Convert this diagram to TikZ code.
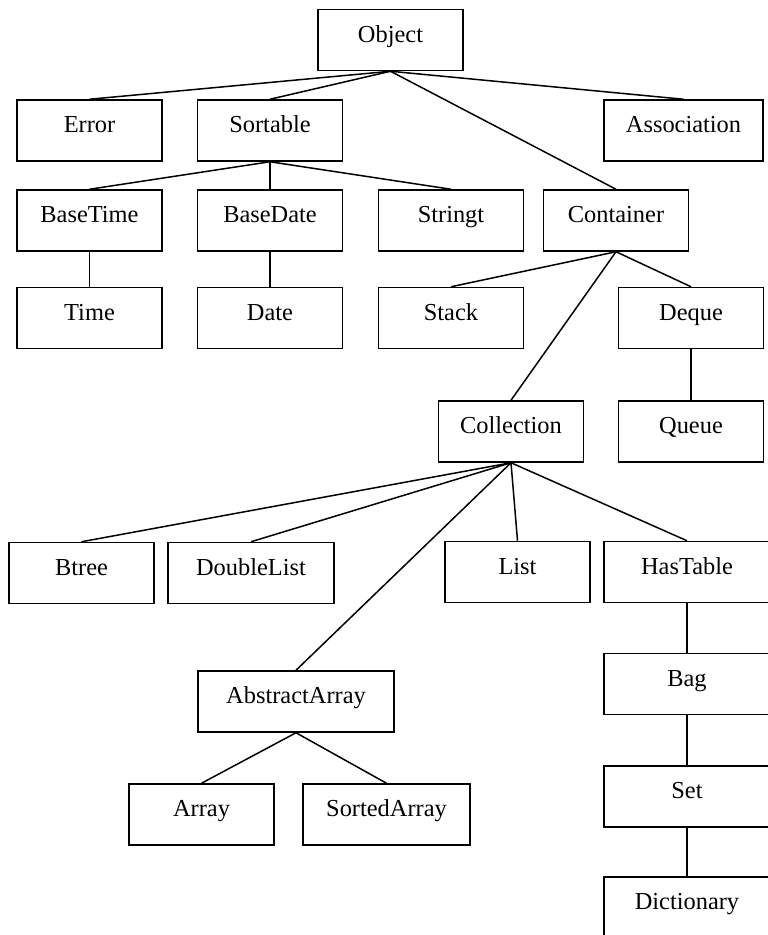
\documentclass[tikz,border=0pt]{standalone}
\usepackage{fontspec}
\setmainfont{Liberation Serif}
\tikzstyle{cls} = [draw, rectangle, line width=1.5pt, minimum width=145pt, minimum height=61pt, inner sep=0pt, text height=15pt, text depth=11pt, font=\fontsize{24.4}{29}\selectfont]
\tikzstyle{link} = [-, line width=1.5pt]

\begin{document}
\begin{tikzpicture}[x=1pt, y=-1pt]
\useasboundingbox (0, 0) rectangle (768, 935);
\clip (0, 0) rectangle (768, 935);
\node [cls] (Object) at (390.5, 40) {Object};
\node [cls] (Error) at (89.5, 130.5) {Error};
\node [cls] (Sortable) at (270, 130.5) {Sortable};
\node [cls, minimum width=159pt] (Association) at (683.5, 130.5) {Association};
\node [cls] (BaseTime) at (89.5, 220.5) {BaseTime};
\node [cls] (BaseDate) at (270, 220.5) {BaseDate};
\node [cls] (Stringt) at (451, 220.5) {Stringt};
\node [cls] (Container) at (616, 220.5) {Container};
\node [cls] (Time) at (89.5, 318) {Time};
\node [cls] (Date) at (270, 318) {Date};
\node [cls] (Stack) at (451, 318) {Stack};
\node [cls] (Deque) at (691, 318) {Deque};
\node [cls] (Collection) at (511, 431.5) {Collection};
\node [cls] (Queue) at (691, 431.5) {Queue};
\node [cls] (Btree) at (81.5, 573) {Btree};
\node [cls, minimum width=166pt] (DoubleList) at (251, 573) {DoubleList};
\node [cls] (List) at (517.5, 572) {List};
\node [cls, minimum width=166pt] (HasTable) at (687, 572) {HasTable};
\node [cls, minimum width=196pt] (AbstractArray) at (296, 701.5) {AbstractArray};
\node [cls, minimum width=166pt] (Bag) at (687, 684) {Bag};
\node [cls] (Array) at (201.5, 814.5) {Array};
\node [cls, minimum width=167pt] (SortedArray) at (386.5, 814.5) {SortedArray};
\node [cls, minimum width=166pt] (Set) at (687, 796.5) {Set};
\node [cls, minimum width=166pt] (Dictionary) at (687, 907.5) {Dictionary};
\draw [link] (Object.south) to (Error.north);
\draw [link] (Object.south) to (Sortable.north);
\draw [link] (Object.south) to (Container.north);
\draw [link] (Object.south) to (Association.north);
\draw [link] (Sortable.south) to (BaseTime.north);
\draw [link] (Sortable.south) to (BaseDate.north);
\draw [link] (Sortable.south) to (Stringt.north);
\draw [link] (BaseTime.south) to (Time.north);
\draw [link] (BaseDate.south) to (Date.north);
\draw [link] (Container.south) to (Stack.north);
\draw [link] (Container.south) to (Collection.north);
\draw [link] (Container.south) to (Deque.north);
\draw [link] (Deque.south) to (Queue.north);
\draw [link] (Collection.south) to (Btree.north);
\draw [link] (Collection.south) to (DoubleList.north);
\draw [link] (Collection.south) to (AbstractArray.north);
\draw [link] (Collection.south) to (List.north);
\draw [link] (Collection.south) to (HasTable.north);
\draw [link] (AbstractArray.south) to (Array.north);
\draw [link] (AbstractArray.south) to (SortedArray.north);
\draw [link] (HasTable.south) to (Bag.north);
\draw [link] (Bag.south) to (Set.north);
\draw [link] (Set.south) to (Dictionary.north);
\end{tikzpicture}
\end{document}
